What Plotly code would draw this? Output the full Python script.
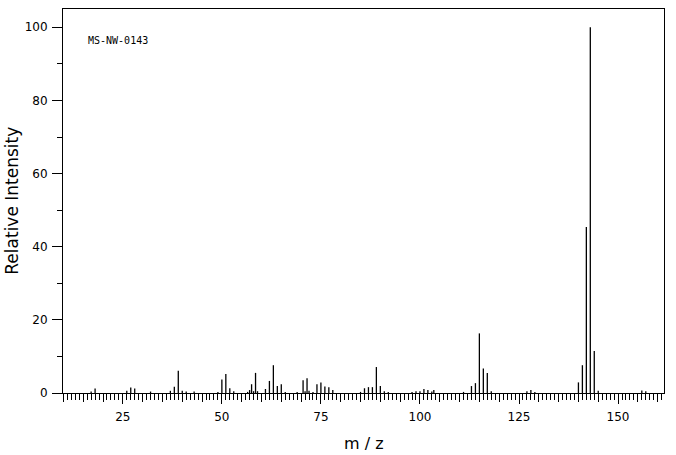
import plotly.graph_objects as go

# m/z values and relative intensities
mz = [17, 18, 26, 27, 28, 32, 37, 38, 39, 40, 41, 43,
      49, 50, 51, 52, 53, 56.5, 57, 57.5, 58, 58.5, 59,
      61, 62, 63, 64, 65, 66, 69, 70.5, 71, 71.5, 72, 73,
      74, 75, 76, 77, 78, 85, 86, 87, 88, 89, 90, 91, 92,
      98, 99, 100, 101, 102, 103, 103.5, 111, 113, 114, 115, 116, 117, 118,
      127, 128, 129, 140, 141, 142, 143, 144, 145, 156, 157]
intensity = [0.4, 1.2, 0.6, 1.5, 1.2, 0.4, 0.6, 1.7, 6.1, 0.6, 0.4, 0.4,
             0.3, 3.7, 5.2, 1.3, 0.5, 0.3, 0.8, 2.4, 0.5, 5.5, 0.5,
             1.1, 3.3, 7.6, 1.9, 2.4, 0.3, 0.3, 3.5, 0.5, 4.0, 0.6, 0.3,
             2.4, 2.9, 1.8, 1.6, 0.8, 0.3, 1.3, 1.6, 1.6, 7.1, 1.9, 0.5, 0.3,
             0.3, 0.5, 0.5, 1.1, 0.8, 0.4, 0.8, 0.3, 1.9, 2.7, 16.3, 6.7, 5.5, 0.5,
             0.5, 0.8, 0.3, 2.9, 7.6, 45.4, 100, 11.5, 0.6, 0.7, 0.5]

x_ticks_major = [25, 50, 75, 100, 125, 150]
x_ticks_mid = list(range(10, 161, 5))
y_ticks = [0, 20, 40, 60, 80, 100]
x_range = [9.9, 161.6]
y_range = [0, 105]

seg_x, seg_y = [], []
for m, v in zip(mz, intensity):
    seg_x += [m, m, None]
    seg_y += [0, v, None]

fig = go.Figure()
fig.add_trace(go.Scatter(x=seg_x, y=seg_y, mode="lines",
                         line=dict(color="black", width=1.3),
                         hoverinfo="skip", showlegend=False))
fig.add_trace(go.Scatter(x=[None], y=[None], xaxis="x2", yaxis="y",
                         mode="markers", showlegend=False, hoverinfo="skip"))

font = dict(family="DejaVu Sans", size=12, color="black")

fig.update_layout(
    width=676, height=455,
    margin=dict(l=63, r=12, t=9, b=62, autoexpand=False),
    paper_bgcolor="white", plot_bgcolor="white",
    font=font,
    xaxis=dict(
        range=x_range, showline=True, linecolor="black", linewidth=1, mirror=True,
        ticks="outside", tickmode="array", tickvals=x_ticks_major,
        ticktext=[str(v) for v in x_ticks_major],
        ticklen=10, tickwidth=1, tickcolor="black",
        minor=dict(ticks="outside", dtick=1, tick0=0, ticklen=6,
                   tickwidth=1, tickcolor="black", showgrid=False),
        showgrid=False, zeroline=False, automargin=False,
        tickfont=font, ticklabelstandoff=3,
    ),
    xaxis2=dict(
        range=x_range, overlaying="x", anchor="y", side="bottom",
        tickmode="array", tickvals=x_ticks_mid, ticks="outside", ticklen=8,
        tickwidth=1, tickcolor="black", showticklabels=False,
        showline=False, showgrid=False, zeroline=False, automargin=False,
    ),
    yaxis=dict(
        range=y_range, showline=True, linecolor="black", linewidth=1, mirror=True,
        ticks="outside", tickmode="array", tickvals=y_ticks,
        ticklen=10, tickwidth=1, tickcolor="black",
        minor=dict(ticks="outside", dtick=10, tick0=0, ticklen=5,
                   tickwidth=1, tickcolor="black", showgrid=False),
        showgrid=False, zeroline=False, automargin=False,
        tickfont=font, ticklabelstandoff=2,
    ),
    annotations=[
        dict(text="MS-NW-0143", xref="paper", yref="paper",
             x=0.0378, y=0.917, xanchor="left", yanchor="middle",
             showarrow=False,
             font=dict(family="DejaVu Sans Mono", size=10, color="black")),
        dict(text="m / z", xref="paper", yref="paper",
             x=0.5, y=-0.132, xanchor="center", yanchor="middle",
             showarrow=False,
             font=dict(family="DejaVu Sans", size=16, color="black")),
        dict(text="Relative Intensity", xref="paper", yref="paper",
             x=-0.0854, y=0.5, xanchor="center", yanchor="middle",
             textangle=-90, showarrow=False,
             font=dict(family="DejaVu Sans", size=17, color="black")),
    ],
)

# remove the page's default body margin so the figure fills the window
fig.write_html("out.html",
               config={"displayModeBar": False, "staticPlot": True},
               post_script="document.body.style.margin='0';document.body.style.overflow='hidden';")
